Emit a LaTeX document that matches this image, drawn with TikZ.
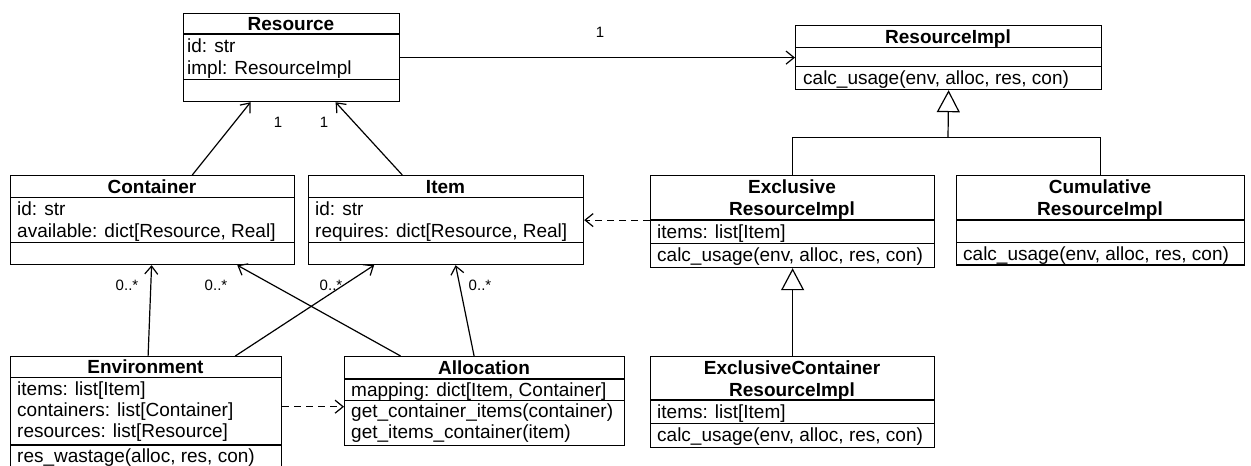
\documentclass[tikz,border=0pt]{standalone}
\usepackage{fontspec}
\setmainfont{Liberation Sans}
\usetikzlibrary{arrows.meta,calc}
% horizontal compartment rule inside a class box, #2 = distance below the top edge
\newcommand{\compsep}[2]{\draw[seprule] ([yshift=-#2pt]#1.north west) -- ([yshift=-#2pt]#1.north east);}
\begin{document}
\begin{tikzpicture}[x=1pt,y=-1pt,
  classbox/.style={draw, line width=1.2pt, anchor=north west, inner sep=0pt},
  seprule/.style={line width=1.2pt},
  txtline/.style={inner sep=0pt, text height=13.6pt, text depth=0pt,
                  font=\fontsize{19}{21}\selectfont},
  ttl/.style={txtline, font=\fontsize{19}{21}\selectfont\bfseries},
  mbr/.style={txtline, anchor=west},
  mult/.style={inner sep=0pt, font=\fontsize{15}{17}\selectfont},
  wire/.style={line width=1.2pt},
  assoc/.style={wire, -{Straight Barb[length=8pt,width=13pt]}},
  dep/.style={assoc, dash pattern=on 7pt off 5pt},
  gen/.style={wire, -{Triangle[open,length=22pt,width=23pt]}}]

\useasboundingbox (0,0) rectangle (1251,466);

% ---------- Resource ----------
\node[classbox, minimum width=216pt, minimum height=88pt] (res) at (183,13) {};
\compsep{res}{21}\compsep{res}{66.3}
\node[ttl] (res-t) at (291,23.5) {Resource};
\node[mbr] (res-a1) at (187,46) {id: str};
\node[mbr] (res-a2) at (187,67.5) {impl: ResourceImpl};

% ---------- ResourceImpl ----------
\node[classbox, minimum width=306pt, minimum height=64pt] (ri) at (795,25) {};
\compsep{ri}{22.7}\compsep{ri}{41.7}
\node[ttl] (ri-t) at (948,36.5) {ResourceImpl};
\node[mbr] (ri-o1) at (803,78) {calc\_usage(env, alloc, res, con)};

% ---------- Container ----------
\node[classbox, minimum width=284pt, minimum height=89pt] (cont) at (10,175) {};
\compsep{cont}{22.3}\compsep{cont}{67.7}
\node[ttl] (cont-t) at (152,186.5) {Container};
\node[mbr] (cont-a1) at (17,209) {id: str};
\node[mbr] (cont-a2) at (17,231) {available: dict[Resource, Real]};

% ---------- Item ----------
\node[classbox, minimum width=275pt, minimum height=89pt] (item) at (308,175) {};
\compsep{item}{22.3}\compsep{item}{67.7}
\node[ttl] (item-t) at (445.5,186.5) {Item};
\node[mbr] (item-a1) at (315,209) {id: str};
\node[mbr] (item-a2) at (315,231) {requires: dict[Resource, Real]};

% ---------- ExclusiveResourceImpl ----------
\node[classbox, minimum width=284pt, minimum height=92pt] (exc) at (650,175) {};
\compsep{exc}{45}\compsep{exc}{68.3}
\node[ttl] (exc-t1) at (792,187) {Exclusive};
\node[ttl] (exc-t2) at (792,209) {ResourceImpl};
\node[mbr] (exc-a1) at (657,231.5) {items: list[Item]};
\node[mbr] (exc-o1) at (657,255) {calc\_usage(env, alloc, res, con)};

% ---------- CumulativeResourceImpl ----------
\node[classbox, minimum width=288pt, minimum height=89.3pt] (cum) at (956,175) {};
\compsep{cum}{45}\compsep{cum}{67.7}
\node[ttl] (cum-t1) at (1100,187) {Cumulative};
\node[ttl] (cum-t2) at (1100,209) {ResourceImpl};
\node[mbr] (cum-o1) at (963,253.5) {calc\_usage(env, alloc, res, con)};

% ---------- Environment ----------
\node[classbox, minimum width=271pt, minimum height=116pt] (env) at (10,356) {};
\compsep{env}{21.7}\compsep{env}{89}
\node[ttl] (env-t) at (145.5,367) {Environment};
\node[mbr] (env-a1) at (17,389) {items: list[Item]};
\node[mbr] (env-a2) at (17,410) {containers: list[Container]};
\node[mbr] (env-a3) at (17,431) {resources: list[Resource]};
\node[mbr] (env-o1) at (17,456) {res\_wastage(alloc, res, con)};

% ---------- Allocation ----------
\node[classbox, minimum width=280pt, minimum height=89pt] (alloc) at (344,356) {};
\compsep{alloc}{23}\compsep{alloc}{44.7}
\node[ttl] (alloc-t) at (484,367.5) {Allocation};
\node[mbr] (alloc-a1) at (351,390) {mapping: dict[Item, Container]};
\node[mbr] (alloc-o1) at (351,411) {get\_container\_items(container)};
\node[mbr] (alloc-o2) at (351,432) {get\_items\_container(item)};

% ---------- ExclusiveContainerResourceImpl ----------
\node[classbox, minimum width=284pt, minimum height=91pt] (exco) at (650,356) {};
\compsep{exco}{44}\compsep{exco}{67.7}
\node[ttl] (exco-t1) at (792,367.5) {ExclusiveContainer};
\node[ttl] (exco-t2) at (792,389.5) {ResourceImpl};
\node[mbr] (exco-a1) at (657,411.5) {items: list[Item]};
\node[mbr] (exco-o1) at (657,435) {calc\_usage(env, alloc, res, con)};

% ---------- associations ----------
\draw[assoc] (res.east) -- (ri.west);
\node[mult] (m-ri) at (600,32) {1};

\draw[assoc] ([xshift=39.7pt]cont.north) -- ([xshift=-41pt]res.south);
\draw[assoc] ([xshift=-43.8pt]item.north) -- ([xshift=44pt]res.south);
\node[mult] (m-res1) at (278,122) {1};
\node[mult] (m-res2) at (324,122) {1};

\draw[assoc] ([xshift=2pt]env.north) -- ([xshift=-1pt]cont.south);
\draw[assoc] ([xshift=89.2pt]env.north) -- ([xshift=-72pt]item.south);
\draw[assoc] ([xshift=-84pt]alloc.north) -- ([xshift=84.7pt]cont.south);
\draw[assoc] ([xshift=-10.5pt]alloc.north) -- ([xshift=9.5pt]item.south);
\node[mult] (m-c1) at (127,285) {0..*};
\node[mult] (m-c2) at (216,285) {0..*};
\node[mult] (m-i1) at (331,285) {0..*};
\node[mult] (m-i2) at (480,285) {0..*};

% ---------- dependencies ----------
\draw[dep] (exc.west |- item.east) -- (item.east);
\draw[dep] ([yshift=-50.7pt]env.north east) -- ([yshift=-50.7pt]alloc.north west);

% ---------- generalisations ----------
\coordinate (gj) at (948,137.7);
\draw[wire] (exc.north) |- (gj) -| (cum.north);
\draw[gen] (gj) -- (ri.south);
\draw[gen] (exco.north) -- (exc.south);

\end{tikzpicture}
\end{document}
